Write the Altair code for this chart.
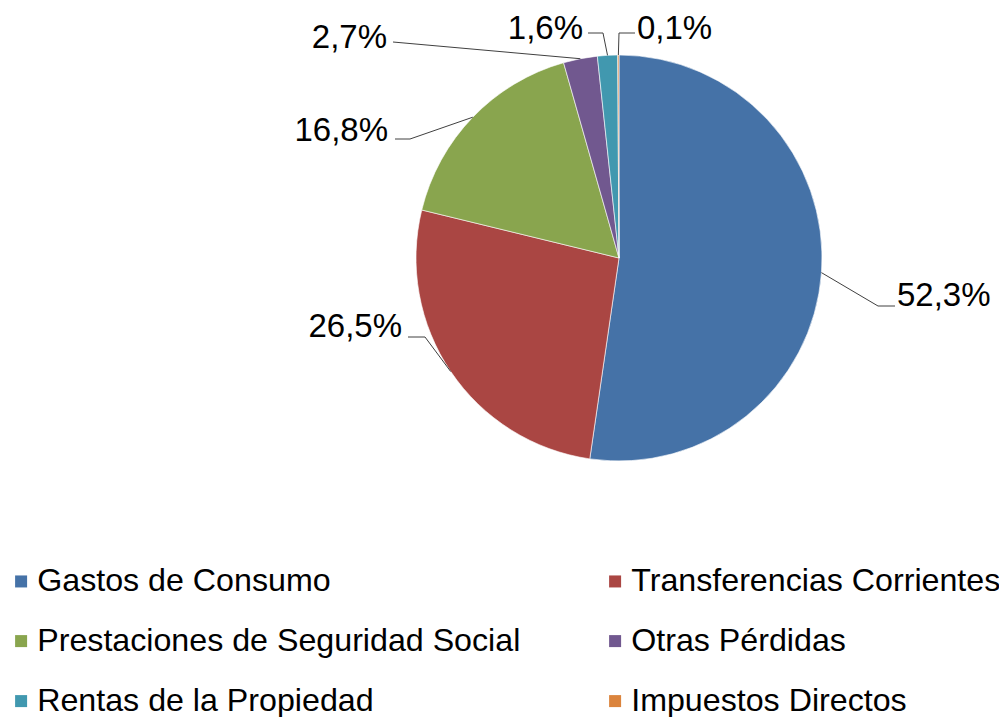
import altair as alt
import pandas as pd
import math

# ---- data ----
categories = ["Gastos de Consumo", "Transferencias Corrientes",
              "Prestaciones de Seguridad Social", "Otras Pérdidas",
              "Rentas de la Propiedad", "Impuestos Directos"]
values = [52.3, 26.5, 16.8, 2.7, 1.6, 0.1]
labels = ["52,3%", "26,5%", "16,8%", "2,7%", "1,6%", "0,1%"]
colors = ["#4572A7", "#AA4643", "#89A54E", "#71588F", "#4198AF", "#DB843D"]

# ---- layout (pixels) ----
W, H = 991, 709
R = 203                 # pie radius
CX, CY = 611, 250       # pie centre inside the plot area
elbow_off = [(259, 48), (-194, 79), (-209, -119), (-226, -216), (-16, -225), (0, -225)]
end_off = [(276, 48), (-211, 79), (-224, -119), (-226, -216), (-31, -225), (16, -225)]
text_off = [(278, 48), (-217, 79), (-231, -117), (-232, -210), (-36, -219), (18, -219)]
text_align = ["left", "right", "right", "right", "right", "left"]

FONT = "Liberation Sans"

xscale = alt.Scale(domain=[-CX / R, (W - CX) / R], nice=False, zero=False)
yscale = alt.Scale(domain=[-(H - CY) / R, CY / R], nice=False, zero=False)

pie_df = pd.DataFrame({
    "category": categories, "value": values, "idx": list(range(len(values))),
    "cx": [0.0] * len(values), "cy": [0.0] * len(values),
})

# legend is filled column by column: order the colour domain so rows read across
leg_order = [0, 2, 4, 1, 3, 5]
leg_domain = [categories[i] for i in leg_order]
leg_range = [colors[i] for i in leg_order]

total = sum(values)
line_rows, text_rows = [], []
cum = 0.0
for i, v in enumerate(values):
    a = (cum + v / 2) / total * 2 * math.pi
    cum += v
    pts = [(math.sin(a), math.cos(a)),
           (elbow_off[i][0] / R, -elbow_off[i][1] / R),
           (end_off[i][0] / R, -end_off[i][1] / R)]
    for s, (px, py) in enumerate(pts):
        line_rows.append({"lab": labels[i], "step": s, "x": px, "y": py})
    text_rows.append({"lab": labels[i], "x": text_off[i][0] / R,
                      "y": -text_off[i][1] / R, "align": text_align[i]})
line_df = pd.DataFrame(line_rows)
text_df = pd.DataFrame(text_rows)

legend = alt.Legend(
    title=None, orient="none", legendX=-3, legendY=557, columns=2,
    columnPadding=78, rowPadding=27, symbolType="square", symbolSize=144,
    symbolStrokeWidth=0, labelFontSize=32.2, labelFont=FONT, labelColor="#000000",
    labelLimit=1000, labelOffset=0, padding=0,
)

pie = alt.Chart(pie_df).mark_arc(outerRadius=R, stroke="white", strokeWidth=0.6).encode(
    x=alt.X("cx:Q", scale=xscale, axis=None),
    y=alt.Y("cy:Q", scale=yscale, axis=None),
    theta=alt.Theta("value:Q", stack=True),
    color=alt.Color("category:N", scale=alt.Scale(domain=leg_domain, range=leg_range),
                    legend=legend),
    order=alt.Order("idx:Q"),
)

leaders = alt.Chart(line_df).mark_line(color="#404040", strokeWidth=1).encode(
    x=alt.X("x:Q", scale=xscale, axis=None),
    y=alt.Y("y:Q", scale=yscale, axis=None),
    detail="lab:N",
    order="step:Q",
)

def text_layer(al):
    return alt.Chart(text_df).transform_filter(
        alt.datum.align == al
    ).mark_text(align=al, baseline="alphabetic", font=FONT, fontSize=33,
                color="#000000").encode(
        x=alt.X("x:Q", scale=xscale, axis=None),
        y=alt.Y("y:Q", scale=yscale, axis=None),
        text="lab:N",
    )

chart = alt.layer(pie, leaders, text_layer("left"), text_layer("right")).properties(
    width=W, height=H, padding=0, autosize=alt.AutoSizeParams(type="none"),
).configure_view(stroke=None)

chart.save("out.html", embed_options={"renderer": "svg", "actions": False})
